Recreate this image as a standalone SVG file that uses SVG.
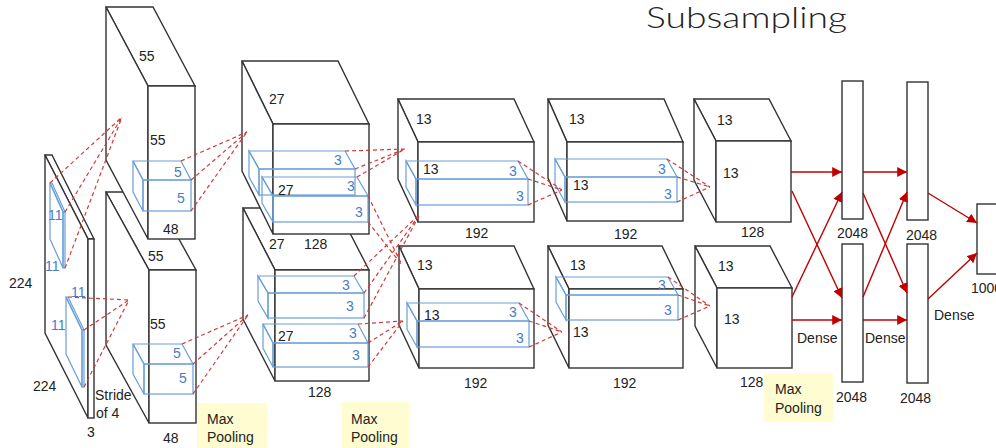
<svg xmlns="http://www.w3.org/2000/svg" width="996" height="448" viewBox="0 0 996 448">
<style>
.box{fill:#fff;stroke:#333;stroke-width:1.4;stroke-linejoin:miter}
.k{fill:none;stroke:#6a9fd8;stroke-width:1.2}
.t{font-family:"Liberation Sans",Arial,sans-serif;font-size:14px;fill:#222}
.b{fill:#4a7cc4}
.dash{fill:none;stroke:#d23a3a;stroke-width:1.2;stroke-dasharray:4 3}
.arr{fill:none;stroke:#c00000;stroke-width:1.4;marker-end:url(#ah)}
.mp{fill:#fefcd0}
</style>
<defs>
<marker id="ah" viewBox="0 0 10 10" refX="10" refY="5" markerWidth="7" markerHeight="7" orient="auto">
<path d="M0,0 L10,5 L0,10 z" fill="#c00000"/>
</marker>
</defs>
<rect width="996" height="448" fill="#fff"/>
<text x="646" y="28" font-family="Lato,'Open Sans',sans-serif" font-weight="300" font-size="30" fill="#222" textLength="201" lengthAdjust="spacingAndGlyphs">Subsampling</text>

<g id="input">
<polygon class="box" points="45,155 52,155 94,239 88,239"/>
<polygon class="box" points="45,155 88,239 88,418 45,333"/>
<rect class="box" x="88" y="239" width="6" height="179"/>
<polygon class="k" points="50,183 52,183 65,212 63,212"/>
<polygon class="k" points="50,183 63,212 63,268 50,239"/>
<rect class="k" x="63" y="212" width="2" height="56"/>
<polygon class="k" points="66,297 68,297 84,330 82,330"/>
<polygon class="k" points="66,297 82,330 82,387 66,354"/>
<rect class="k" x="82" y="330" width="2" height="57"/>
<text class="t b" x="48" y="220">11</text>
<text class="t b" x="45" y="271">11</text>
<text class="t b" x="71" y="297">11</text>
<text class="t b" x="51" y="330">11</text>
<text class="t" x="9" y="288">224</text>
<text class="t" x="33" y="391">224</text>
<text class="t" x="87" y="437">3</text>
<text class="t" x="95" y="400">Stride</text>
<text class="t" x="96" y="418">of 4</text>
</g>

<g id="conv1-bottom">
<polygon class="box" points="106,192 153,192 196,270 149,270"/>
<polygon class="box" points="106,192 149,270 149,423 106,345"/>
<rect class="box" x="149" y="270" width="47" height="153"/>
<polygon class="k" points="133,344 182,344 193,364 144,364"/>
<polygon class="k" points="133,344 144,364 144,394 133,374"/>
<rect class="k" x="144" y="364" width="49" height="30"/>
<text class="t" x="148" y="261">55</text>
<text class="t" x="150" y="329">55</text>
<text class="t" x="163" y="443">48</text>
<text class="t b" x="173" y="358">5</text>
<text class="t b" x="179" y="383">5</text>
</g>

<g id="conv1-top">
<polygon class="box" points="106,7 153,7 195,86 148,86"/>
<polygon class="box" points="106,7 148,86 148,239 106,160"/>
<rect class="box" x="148" y="86" width="47" height="153"/>
<polygon class="k" points="133,161 181,161 191,180 143,180"/>
<polygon class="k" points="133,161 143,180 143,211 133,192"/>
<rect class="k" x="143" y="180" width="48" height="31"/>
<text class="t" x="139" y="61">55</text>
<text class="t" x="150" y="145">55</text>
<text class="t" x="163" y="234">48</text>
<text class="t b" x="174" y="177">5</text>
<text class="t b" x="177" y="203">5</text>
</g>

<g id="conv2-bottom">
<polygon class="box" points="243,208 337,208 369,270 275,270"/>
<polygon class="box" points="243,208 275,270 275,381 243,319"/>
<rect class="box" x="275" y="270" width="94" height="111"/>
<polygon class="k" points="258,276 354,276 364,293 268,293"/>
<polygon class="k" points="258,276 268,293 268,318 258,301"/>
<rect class="k" x="268" y="293" width="96" height="25"/>
<polygon class="k" points="263,324 358,324 368,343 273,343"/>
<polygon class="k" points="263,324 273,343 273,367 263,348"/>
<rect class="k" x="273" y="343" width="95" height="24"/>
<text class="t" x="278" y="341">27</text>
<text class="t" x="308" y="397">128</text>
<text class="t b" x="342" y="290">3</text>
<text class="t b" x="346" y="311">3</text>
<text class="t b" x="349" y="338">3</text>
<text class="t b" x="352" y="360">3</text>
</g>

<g id="conv2-top">
<polygon class="box" points="242,61 338,61 369,124 273,124"/>
<polygon class="box" points="242,61 273,124 273,234 242,171"/>
<rect class="box" x="273" y="124" width="96" height="110"/>
<polygon class="k" points="249,151 345,151 355,169 259,169"/>
<polygon class="k" points="249,151 259,169 259,195 249,177"/>
<rect class="k" x="259" y="169" width="96" height="26"/>
<polygon class="k" points="262,177 357,177 368,196 273,196"/>
<polygon class="k" points="262,177 273,196 273,222 262,203"/>
<rect class="k" x="273" y="196" width="95" height="26"/>
<text class="t" x="269" y="104">27</text>
<text class="t" x="278" y="195">27</text>
<text class="t" x="269" y="249">27</text>
<text class="t" x="304" y="249">128</text>
<text class="t b" x="334" y="165">3</text>
<text class="t b" x="347" y="191">3</text>
<text class="t b" x="355" y="217">3</text>
</g>

<g id="conv3-top">
<polygon class="box" points="398,99 514,99 534,142 418,142"/>
<polygon class="box" points="398,99 418,142 418,222 398,179"/>
<rect class="box" x="418" y="142" width="116" height="80"/>
<polygon class="k" points="406,161 518,161 528,179 416,179"/>
<polygon class="k" points="406,161 416,179 416,205 406,187"/>
<rect class="k" x="416" y="179" width="112" height="26"/>
<text class="t" x="416" y="124">13</text>
<text class="t" x="423" y="174">13</text>
<text class="t" x="465" y="238">192</text>
<text class="t b" x="509" y="176">3</text>
<text class="t b" x="516" y="201">3</text>
</g>

<g id="conv3-bottom">
<polygon class="box" points="399,246 514,246 534,289 419,289"/>
<polygon class="box" points="399,246 419,289 419,368 399,325"/>
<rect class="box" x="419" y="289" width="115" height="79"/>
<polygon class="k" points="407,303 519,303 529,321 417,321"/>
<polygon class="k" points="407,303 417,321 417,347 407,329"/>
<rect class="k" x="417" y="321" width="112" height="26"/>
<text class="t" x="417" y="270">13</text>
<text class="t" x="424" y="320">13</text>
<text class="t" x="464" y="388">192</text>
<text class="t b" x="509" y="317">3</text>
<text class="t b" x="516" y="343">3</text>
</g>

<g id="conv4-top">
<polygon class="box" points="548,99 664,99 683,142 567,142"/>
<polygon class="box" points="548,99 567,142 567,221 548,178"/>
<rect class="box" x="567" y="142" width="116" height="79"/>
<polygon class="k" points="555,159 667,159 677,177 565,177"/>
<polygon class="k" points="555,159 565,177 565,202 555,184"/>
<rect class="k" x="565" y="177" width="112" height="25"/>
<text class="t" x="569" y="124">13</text>
<text class="t" x="573" y="190">13</text>
<text class="t" x="614" y="239">192</text>
<text class="t b" x="658" y="174">3</text>
<text class="t b" x="664" y="199">3</text>
</g>

<g id="conv4-bottom">
<polygon class="box" points="548,246 662,246 683,289 569,289"/>
<polygon class="box" points="548,246 569,289 569,368 548,325"/>
<rect class="box" x="569" y="289" width="114" height="79"/>
<polygon class="k" points="556,277 668,277 678,295 566,295"/>
<polygon class="k" points="556,277 566,295 566,320 556,302"/>
<rect class="k" x="566" y="295" width="112" height="25"/>
<text class="t" x="570" y="270">13</text>
<text class="t" x="573" y="337">13</text>
<text class="t" x="613" y="388">192</text>
<text class="t b" x="658" y="290">3</text>
<text class="t b" x="664" y="315">3</text>
</g>

<g id="conv5-top">
<polygon class="box" points="694,99 769,99 791,141 716,141"/>
<polygon class="box" points="694,99 716,141 716,222 694,180"/>
<rect class="box" x="716" y="141" width="75" height="81"/>
<text class="t" x="717" y="125">13</text>
<text class="t" x="723" y="178">13</text>
<text class="t" x="741" y="237">128</text>
</g>

<g id="conv5-bottom">
<polygon class="box" points="695,246 770,246 792,288 717,288"/>
<polygon class="box" points="695,246 717,288 717,368 695,326"/>
<rect class="box" x="717" y="288" width="75" height="80"/>
<text class="t" x="718" y="271">13</text>
<text class="t" x="724" y="324">13</text>
<text class="t" x="740" y="387">128</text>
</g>

<g id="fc1-top">
<rect class="box" x="842" y="81" width="21" height="138"/>
<text class="t" x="837" y="238">2048</text>
</g>
<g id="fc1-bottom">
<rect class="box" x="842" y="244" width="21" height="138"/>
<text class="t" x="836" y="402">2048</text>
</g>
<g id="fc2-top">
<rect class="box" x="907" y="82" width="21" height="138"/>
<text class="t" x="906" y="240">2048</text>
</g>
<g id="fc2-bottom">
<rect class="box" x="907" y="244" width="21" height="139"/>
<text class="t" x="900" y="403">2048</text>
</g>
<g id="output">
<rect class="box" x="977" y="204" width="30" height="70"/>
<text class="t" x="971" y="293">1000</text>
</g>

<g id="maxpool-1">
<rect class="mp" x="197" y="403" width="70" height="45"/>
<text class="t" x="207" y="424" font-size="15">Max</text>
<text class="t" x="207" y="442" font-size="15">Pooling</text>
</g>
<g id="maxpool-2">
<rect class="mp" x="342" y="402" width="67" height="46"/>
<text class="t" x="351" y="424" font-size="15">Max</text>
<text class="t" x="351" y="442" font-size="15">Pooling</text>
</g>
<g id="maxpool-3">
<rect class="mp" x="764" y="373" width="69" height="49"/>
<text class="t" x="775" y="394" font-size="15">Max</text>
<text class="t" x="775" y="413" font-size="15">Pooling</text>
</g>

<g id="connectors">
<path class="dash" d="M50,183 L122,117 M65,212 L122,117 M65,268 L122,117"/>
<path class="dash" d="M68,297 L129,300 M84,330 L129,300 M84,387 L129,300"/>
<path class="dash" d="M181,161 L247,132 M191,180 L247,132 M191,211 L247,132"/>
<path class="dash" d="M182,344 L248,315 M193,364 L248,315 M193,394 L248,315"/>
<path class="dash" d="M345,151 L405,149 M355,169 L405,149 M357,177 L405,149"/>
<path class="dash" d="M368,196 L402,265 M368,222 L402,265"/>
<path class="dash" d="M354,276 L420,214 M364,293 L420,214 M364,318 L420,214"/>
<path class="dash" d="M358,324 L403,321 M368,343 L403,321 M368,367 L403,321"/>
<path class="dash" d="M518,161 L562,190 M528,179 L562,190 M528,205 L562,190"/>
<path class="dash" d="M519,303 L562,332 M529,321 L562,332 M529,347 L562,332"/>
<path class="dash" d="M667,159 L710,187 M677,177 L710,187 M677,202 L710,187"/>
<path class="dash" d="M668,277 L710,306 M678,295 L710,306 M678,320 L710,306"/>
<line class="arr" x1="791" y1="172" x2="842" y2="172"/>
<line class="arr" x1="792" y1="191" x2="842" y2="298"/>
<line class="arr" x1="792" y1="297" x2="842" y2="192"/>
<line class="arr" x1="792" y1="320" x2="842" y2="320"/>
<line class="arr" x1="863" y1="172" x2="907" y2="172"/>
<line class="arr" x1="863" y1="193" x2="907" y2="293"/>
<line class="arr" x1="863" y1="297" x2="907" y2="192"/>
<line class="arr" x1="863" y1="320" x2="907" y2="320"/>
<line class="arr" x1="928" y1="193" x2="977" y2="223"/>
<line class="arr" x1="928" y1="299" x2="977" y2="253"/>
<text class="t" x="797" y="343">Dense</text>
<text class="t" x="865" y="343">Dense</text>
<text class="t" x="934" y="320">Dense</text>
</g>
</svg>
